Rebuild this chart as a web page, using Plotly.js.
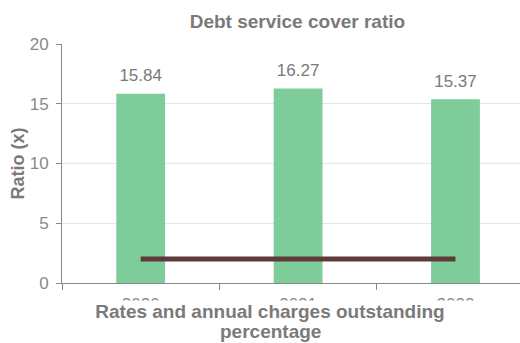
<!DOCTYPE html>
<html>
<head>
<meta charset="utf-8">
<script src="https://cdn.plot.ly/plotly-3.0.1.min.js"></script>
<style>html,body{margin:0;padding:0;background:#fff;overflow:hidden;}#chart{width:520px;height:343px;}</style>
</head>
<body>
<div id="chart"></div>
<script>
// Data
const years = ['2020', '2021', '2022'];
const ratioValues = [15.84, 16.27, 15.37];
const benchmarkValues = [2, 2, 2];
const chartTitle = 'Debt service cover ratio';
const yTitle = 'Ratio (x)';
const xTitleLine1 = 'Rates and annual charges outstanding';
const xTitleLine2 = 'percentage';

const FONT = 'Liberation Sans, Arial, sans-serif';
const plotH = 239, plotW = 458, mL = 62, mT = 44, mB = 60;

const bars = {
  type: 'bar',
  x: years,
  y: ratioValues,
  width: 0.31,
  marker: {color: '#7dcc99'},
  showlegend: false,
  hoverinfo: 'x+y'
};
const line = {
  type: 'scatter',
  mode: 'lines',
  x: years,
  y: benchmarkValues,
  line: {color: '#5e3a3b', width: 5},
  showlegend: false
};
const labels = {
  type: 'scatter',
  mode: 'markers+text',
  x: years,
  y: ratioValues,
  text: ratioValues.map(v => v.toFixed(2)),
  textposition: 'top center',
  marker: {size: 12, opacity: 0},
  textfont: {family: FONT, size: 17, color: '#7a7a7a'},
  cliponaxis: false,
  showlegend: false
};

const layout = {
  width: 520, height: 343,
  margin: {l: mL, r: 0, t: mT, b: mB, pad: 0},
  paper_bgcolor: '#fff', plot_bgcolor: '#fff',
  font: {family: FONT, color: '#888'},
  title: {
    text: chartTitle,
    font: {family: FONT, size: 19, color: '#7a7a7a', weight: 700},
    xref: 'paper', x: 0.514, xanchor: 'center',
    yref: 'container', y: 1 - 21/343, yanchor: 'middle'
  },
  xaxis: {
    type: 'category',
    range: [-0.5, 2.41],
    showgrid: false,
    showline: true, linecolor: '#888', linewidth: 1,
    ticks: 'outside', ticklen: 6, tickcolor: '#888',
    tickson: 'boundaries',
    ticklabelstandoff: 6,
    tickfont: {family: FONT, size: 17, color: '#888'},
    zeroline: false, fixedrange: true
  },
  yaxis: {
    range: [0, 20], dtick: 5, tick0: 0,
    showgrid: true, gridcolor: '#e6e6e6', gridwidth: 1,
    showline: true, linecolor: '#888', linewidth: 1,
    ticks: 'outside', ticklen: 5, tickcolor: '#888',
    ticklabelstandoff: 4,
    tickfont: {family: FONT, size: 17, color: '#888'},
    zeroline: false, fixedrange: true,
    title: {text: yTitle, font: {family: FONT, size: 18, color: '#7a7a7a', weight: 700}, standoff: 0}
  },
  annotations: [
    {
      text: xTitleLine1, xref: 'paper', yref: 'paper',
      x: (270 - mL)/plotW, y: -17/plotH, xanchor: 'center', yanchor: 'top',
      width: 520, height: 44, valign: 'top', align: 'center',
      bgcolor: '#ffffff', borderpad: 0, showarrow: false,
      font: {family: FONT, size: 19, color: '#7a7a7a', weight: 700}
    },
    {
      text: xTitleLine2, xref: 'paper', yref: 'paper',
      x: (270 - mL)/plotW, y: -37/plotH, xanchor: 'center', yanchor: 'top',
      borderpad: 0, showarrow: false,
      font: {family: FONT, size: 19, color: '#7a7a7a', weight: 700}
    }
  ],
  bargap: 0.69
};

Plotly.newPlot('chart', [bars, line, labels], layout, {displayModeBar: false, staticPlot: true});
</script>
</body>
</html>
